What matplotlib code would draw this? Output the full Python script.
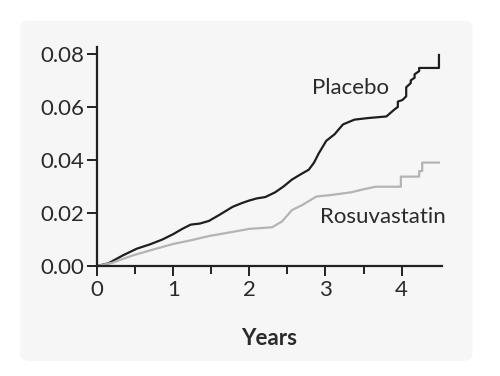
import matplotlib.pyplot as plt
from matplotlib.patches import FancyBboxPatch

# cumulative incidence
placebo_years = [0, 0.15, 0.34, 0.52, 0.70, 0.86, 1.0, 1.12, 1.23, 1.35, 1.47, 1.62, 1.78, 1.9, 2.0,
                 2.1, 2.21, 2.34, 2.45, 2.56, 2.67, 2.78, 2.85, 2.91, 3.01, 3.12, 3.23, 3.38,
                 3.56, 3.80, 3.90, 3.95, 3.95, 4.01, 4.06, 4.06, 4.12, 4.12, 4.17, 4.17, 4.23,
                 4.23, 4.49, 4.49]
placebo_risk = [0, 0.001, 0.004, 0.0065, 0.0082, 0.010, 0.012, 0.014, 0.0156, 0.016, 0.017, 0.0195,
                0.0223, 0.0237, 0.0247, 0.0255, 0.026, 0.0278, 0.030, 0.0326, 0.0345, 0.0363, 0.039,
                0.0424, 0.0472, 0.0497, 0.0534, 0.0552, 0.0558, 0.0564, 0.0589, 0.0600, 0.0620,
                0.0626, 0.0640, 0.0674, 0.0690, 0.0700, 0.0710, 0.0723, 0.0735, 0.0747, 0.0747,
                0.0796]

rosu_years = [0, 0.2, 0.47, 0.75, 1.0, 1.25, 1.47, 1.75, 2.0, 2.30, 2.43, 2.56, 2.69, 2.88, 3.08,
              3.34, 3.51, 3.66, 3.99, 3.99, 4.23, 4.23, 4.27, 4.27, 4.49]
rosu_risk = [0, 0.0012, 0.004, 0.0063, 0.0083, 0.0098, 0.0113, 0.0127, 0.014, 0.0146, 0.0168,
             0.0211, 0.0229, 0.0262, 0.0268, 0.0278, 0.029, 0.0299, 0.0299, 0.0337, 0.0337,
             0.0358, 0.0358, 0.039, 0.039]

plt.rcParams['font.family'] = ['Lato', 'DejaVu Sans']

fig = plt.figure(figsize=(5, 3.76), dpi=100)
fig.patch.set_facecolor('white')
panel = FancyBboxPatch((0.04, 0.04), 0.905, 0.905, boxstyle="round,pad=0,rounding_size=0.02",
                       transform=fig.transFigure, facecolor='#f6f6f6', edgecolor='none', zorder=-5)
fig.patches.append(panel)

ax = fig.add_axes([0.194, 0.2926, 0.69, 0.5824])
ax.set_zorder(2)
ax.set_facecolor('none')
ax.plot(placebo_years, placebo_risk, color='#1e1e1e', lw=1.6)
ax.plot(rosu_years, rosu_risk, color='#b4b4b4', lw=1.6)

ax.set_xlim(0, 4.53)
ax.set_ylim(0, 0.0826)
ax.set_xticks([0, 1, 2, 3, 4])
ax.set_xticks([0.5, 1.5, 2.5, 3.5], minor=True)
ax.set_yticks([0, 0.02, 0.04, 0.06, 0.08])
ax.set_yticklabels(['0.00', '0.02', '0.04', '0.06', '0.08'])
for s in ['top', 'right']:
    ax.spines[s].set_visible(False)
for s in ['left', 'bottom']:
    ax.spines[s].set_linewidth(1.6)
    ax.spines[s].set_color('#222222')
ax.tick_params(axis='both', which='both', direction='out', width=1.4, color='#222222',
               labelsize=16, labelcolor='#2a2a2a')
ax.tick_params(axis='x', which='major', length=7, pad=3)
ax.tick_params(axis='x', which='minor', length=6)
ax.tick_params(axis='y', length=7, pad=2)
ax.set_xlabel('Years', fontsize=16, fontweight='bold', color='#2a2a2a', labelpad=20)

ax.text(3.33, 0.0672, 'Placebo', fontsize=16, color='#2a2a2a', ha='center', va='center')
ax.text(3.76, 0.0183, 'Rosuvastatin', fontsize=16, color='#2a2a2a', ha='center', va='center')

plt.savefig('out.png', dpi=100)
